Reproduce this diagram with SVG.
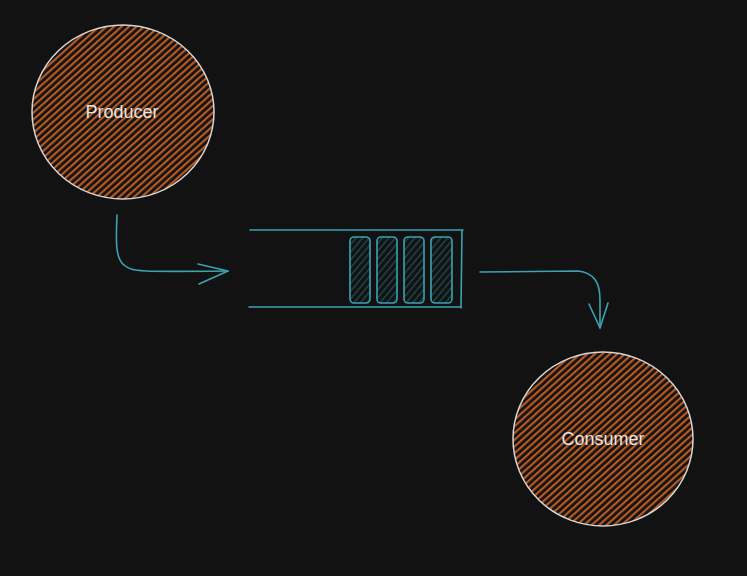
<svg xmlns="http://www.w3.org/2000/svg" width="747" height="576" viewBox="0 0 747 576">
<defs>
<pattern id="hOrange" patternUnits="userSpaceOnUse" width="5" height="5" patternTransform="rotate(-42)">
<rect width="5" height="5" fill="#121212"/>
<rect width="5" height="2.2" fill="#b65a24"/>
</pattern>
<pattern id="hTeal" patternUnits="userSpaceOnUse" width="5" height="5" patternTransform="rotate(-50)">
<rect width="5" height="5" fill="#121212"/>
<rect width="5" height="1.3" fill="#1e4d52"/>
</pattern>
<style>
.node{stroke:#d6d6d6;stroke-width:1.5;fill:url(#hOrange)}
.lbl{font-family:"Liberation Sans",Arial,sans-serif;font-size:18px;fill:#e6e6e6;text-anchor:middle;dominant-baseline:central}
.teal{stroke:#3aa3b1;stroke-width:1.6;fill:none;stroke-linecap:round;stroke-linejoin:round}
.cell{stroke:#3aa3b1;stroke-width:1.6;fill:url(#hTeal)}
</style>
</defs>
<rect width="747" height="576" fill="#121212"/>
<g id="producer">
<ellipse class="node" cx="123" cy="112" rx="91" ry="87"/>
<text class="lbl" x="122" y="112">Producer</text>
</g>
<g id="consumer">
<ellipse class="node" cx="603" cy="439" rx="90" ry="87"/>
<text class="lbl" x="603" y="439">Consumer</text>
</g>
<g id="queue">
<path class="teal" d="M250 230 L463 230 M249 307 L461 307 M462 230 L461 308"/>
<rect class="cell" x="350" y="237" width="20" height="66" rx="4"/>
<rect class="cell" x="377" y="237" width="20" height="66" rx="4"/>
<rect class="cell" x="404" y="237" width="20" height="66" rx="4"/>
<rect class="cell" x="431" y="237" width="21" height="66" rx="4"/>
</g>
<g id="connectors">
<path class="teal" d="M117 215 C116 240 115 258 124 265 C132 272 140 272 228 271"/>
<path class="teal" d="M198 264 L228 271 L199 284"/>
<path class="teal" d="M480 272 L578 271 C594 273 600 282 600 300 L600 328"/>
<path class="teal" d="M589 304 L600 328 L608 303"/>
</g>
</svg>
